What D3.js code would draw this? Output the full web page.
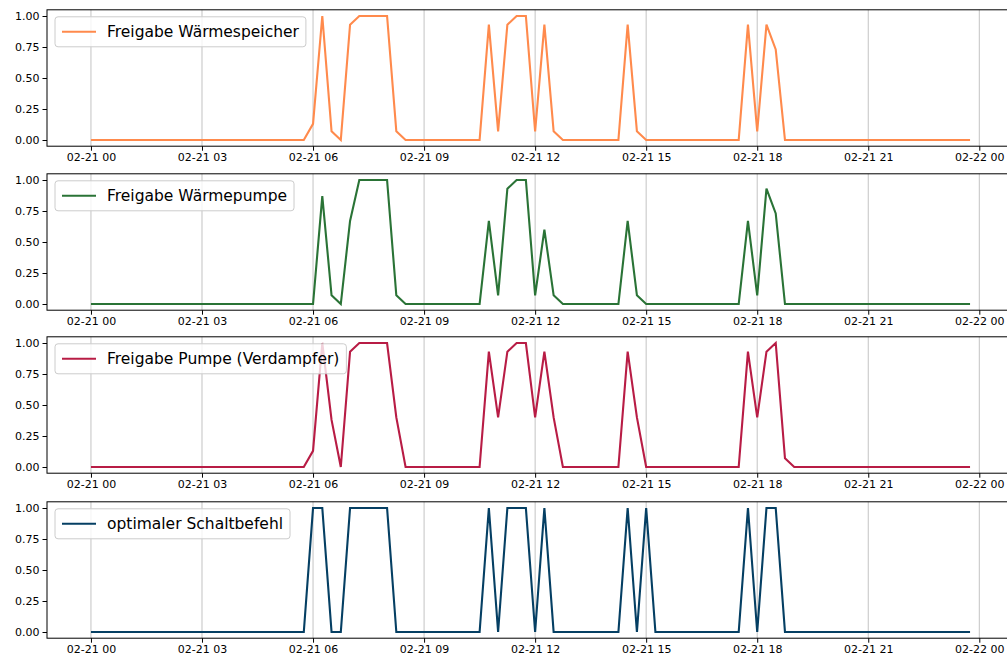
<!DOCTYPE html>
<html>
<head>
<meta charset="utf-8">
<script src="https://cdn.jsdelivr.net/npm/d3@7"></script>
<style>
  html, body { margin: 0; padding: 0; background: #fff; }
  svg { display: block; font-family: "DejaVu Sans", sans-serif; }
</style>
</head>
<body>
<svg id="chart" width="1007" height="658"></svg>
<script>
// 15-minute resolution, one day
const startTime = new Date(2023, 1, 21, 0, 0);
const stepMinutes = 15;

const waermespeicher = [
  0,0,0,0,0,0,0,0,0,0,0,0,
  0,0,0,0,0,0,0,0,0,0,0,0,
  0.13,1,0.07,0,0.93,1,1,1,1,0.07,0,0,
  0,0,0,0,0,0,0,0.93,0.07,0.93,1,1,
  0.07,0.93,0.07,0,0,0,0,0,0,0,0.93,0.07,
  0,0,0,0,0,0,0,0,0,0,0,0.93,
  0.07,0.93,0.73,0,0,0,0,0,0,0,0,0,
  0,0,0,0,0,0,0,0,0,0,0,0
];
const waermepumpe = [
  0,0,0,0,0,0,0,0,0,0,0,0,
  0,0,0,0,0,0,0,0,0,0,0,0,
  0,0.87,0.07,0,0.67,1,1,1,1,0.07,0,0,
  0,0,0,0,0,0,0,0.67,0.07,0.93,1,1,
  0.07,0.6,0.07,0,0,0,0,0,0,0,0.67,0.07,
  0,0,0,0,0,0,0,0,0,0,0,0.67,
  0.07,0.93,0.73,0,0,0,0,0,0,0,0,0,
  0,0,0,0,0,0,0,0,0,0,0,0
];
const pumpeVerdampfer = [
  0,0,0,0,0,0,0,0,0,0,0,0,
  0,0,0,0,0,0,0,0,0,0,0,0,
  0.13,1,0.38,0,0.93,1,1,1,1,0.4,0,0,
  0,0,0,0,0,0,0,0.93,0.4,0.93,1,1,
  0.4,0.93,0.4,0,0,0,0,0,0,0,0.93,0.4,
  0,0,0,0,0,0,0,0,0,0,0,0.93,
  0.4,0.93,1,0.07,0,0,0,0,0,0,0,0,
  0,0,0,0,0,0,0,0,0,0,0,0
];
const schaltbefehl = [
  0,0,0,0,0,0,0,0,0,0,0,0,
  0,0,0,0,0,0,0,0,0,0,0,0,
  1,1,0,0,1,1,1,1,1,0,0,0,
  0,0,0,0,0,0,0,1,0,1,1,1,
  0,1,0,0,0,0,0,0,0,0,1,0,
  1,0,0,0,0,0,0,0,0,0,0,1,
  0,1,1,0,0,0,0,0,0,0,0,0,
  0,0,0,0,0,0,0,0,0,0,0,0
];

const seriesNames = ["Freigabe Wärmespeicher", "Freigabe Wärmepumpe",
                     "Freigabe Pumpe (Verdampfer)", "optimaler Schaltbefehl"];
const seriesColors = ["#ff8a4c", "#2a7336", "#b81c45", "#053f63"];
const seriesValues = [waermespeicher, waermepumpe, pumpeVerdampfer, schaltbefehl];
const yTicks = [0, 0.25, 0.5, 0.75, 1.0];

const svg = d3.select("#chart");
const left = 47, right = 1014;
const panelTops = [9.8, 173.8, 336.8, 501.8];
const panelHeight = 136.4;

const times = waermespeicher.map((_, i) => d3.timeMinute.offset(startTime, i * stepMinutes));
const tMin = times[0], tMax = times[times.length - 1];
const span = tMax - tMin;
const x = d3.scaleTime()
  .domain([new Date(+tMin - span * 0.05), new Date(+tMax + span * 0.05)])
  .range([left, right]);
const xTicks = d3.timeHour.range(startTime, d3.timeHour.offset(startTime, 25), 3);
const fmt = d3.timeFormat("%m-%d %H");

seriesValues.forEach((vals, k) => {
  const top = panelTops[k];
  const y = d3.scaleLinear().domain([-0.05, 1.05]).range([top + panelHeight, top]);
  const g = svg.append("g");

  // vertical grid
  g.append("g").selectAll("line").data(xTicks).join("line")
    .attr("x1", d => x(d)).attr("x2", d => x(d))
    .attr("y1", top).attr("y2", top + panelHeight)
    .attr("stroke", "#b0b0b0").attr("stroke-width", 1).attr("opacity", 0.75);

  // line
  const line = d3.line().x((d, i) => x(times[i])).y(d => y(d));
  g.append("path").datum(vals)
    .attr("d", line).attr("fill", "none")
    .attr("stroke", seriesColors[k]).attr("stroke-width", 2.1)
    .attr("stroke-linejoin", "miter");

  // axes
  const xAxis = d3.axisBottom(x).tickValues(xTicks).tickFormat(fmt).tickSize(4.5).tickPadding(3);
  const gx = g.append("g").attr("transform", `translate(0,${top + panelHeight})`).call(xAxis);
  const yAxis = d3.axisLeft(y).tickValues(yTicks).tickFormat(d3.format(".2f")).tickSize(4.5).tickPadding(3);
  const gy = g.append("g").attr("transform", `translate(${left},0)`).call(yAxis);
  [gx, gy].forEach(a => {
    a.select(".domain").remove();
    a.selectAll("text").attr("font-size", 11).attr("fill", "#000")
      .attr("font-family", "DejaVu Sans, sans-serif");
    a.selectAll("line").attr("stroke", "#000").attr("stroke-width", 1);
  });

  // frame
  g.append("rect").attr("x", left).attr("y", top)
    .attr("width", right - left).attr("height", panelHeight)
    .attr("fill", "none").attr("stroke", "#000").attr("stroke-width", 1);

  // legend
  const lg = g.append("g").attr("transform", `translate(${left + 8},${top + 7})`);
  const box = lg.append("rect").attr("rx", 3).attr("ry", 3)
    .attr("fill", "#fff").attr("fill-opacity", 0.8)
    .attr("stroke", "#cccccc").attr("stroke-width", 1);
  lg.append("line").attr("x1", 7).attr("x2", 41).attr("y1", 15).attr("y2", 15)
    .attr("stroke", seriesColors[k]).attr("stroke-width", 2.1);
  const txt = lg.append("text").attr("x", 52).attr("y", 20.5)
    .attr("font-size", 15.5).attr("fill", "#000").text(seriesNames[k]);
  const w = txt.node().getComputedTextLength();
  box.attr("x", 0).attr("y", 0).attr("width", 52 + w + 7).attr("height", 30);
});
</script>
</body>
</html>
